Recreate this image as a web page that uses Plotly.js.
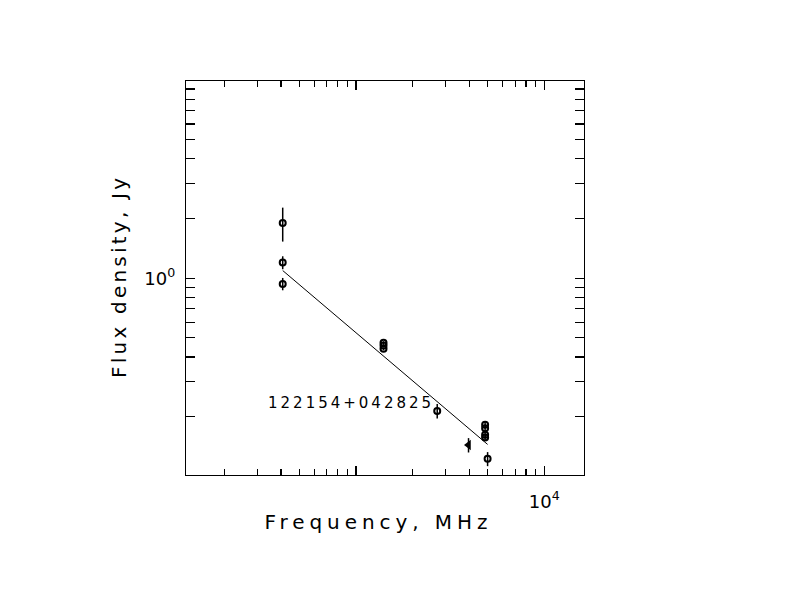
<!DOCTYPE html>
<html>
<head>
<meta charset="utf-8">
<script src="https://cdn.plot.ly/plotly-3.0.1.min.js"></script>
<style>body{margin:0;background:#fff}#plot{width:792px;height:612px}</style>
</head>
<body>
<div id="plot"></div>
<script>
// Source name
const sourceName = "122154+042825";

// Measured points (frequency in MHz, flux density in Jy)
const circFreq = [408, 408, 408, 1400, 1400, 1400, 2700, 4850, 4850, 4850, 4850, 5000];
const circFlux = [1.90, 1.20, 0.936, 0.473, 0.457, 0.440, 0.214, 0.182, 0.175, 0.162, 0.157, 0.1226];
const circErr  = [0.37, 0.09, 0.067, 0.008, 0.008, 0.008, 0.018, 0.007, 0.006, 0.006, 0.006, 0.010];

// Triangle-marked point
const triFreq = [3960];
const triFlux = [0.144];
const triErr  = [0.012];

// Power-law fit line
const fitFreq = [408, 5000];
const fitFlux = [1.093, 0.145];

// Ticks
const xLabelVals = [10000];
const xLabelText = ["10<sup>4</sup>"];
const xUnlabeledMajor = [1000];
const xMinorVals = [200, 300, 400, 500, 600, 700, 800, 900, 2000, 3000, 4000, 5000, 6000, 7000, 8000, 9000];
const yMajorVals = [1];
const yMajorText = ["10<sup>0</sup>"];
const yMinorVals = [0.2, 0.3, 0.4, 0.5, 0.6, 0.7, 0.8, 0.9, 2, 3, 4, 5, 6, 7, 8, 9];

const FONT = "DejaVu Sans";
const X_RANGE = [2.097, 4.211];

const traces = [
  {
    x: fitFreq, y: fitFlux, mode: "lines", type: "scatter", xaxis: "x2",
    line: {color: "black", width: 1}, hoverinfo: "skip", showlegend: false
  },
  {
    x: circFreq, y: circFlux, mode: "markers", type: "scatter",
    marker: {symbol: "circle-open", size: 6, color: "black", line: {width: 2, color: "black"}},
    error_y: {type: "data", array: circErr, visible: true, width: 0, thickness: 1.5, color: "black"},
    showlegend: false
  },
  {
    x: triFreq, y: triFlux, mode: "markers", type: "scatter",
    marker: {symbol: "triangle-left", size: 9, color: "black"},
    error_y: {type: "data", array: triErr, visible: true, width: 0, thickness: 1.5, color: "black"},
    showlegend: false
  }
];

const layout = {
  width: 792, height: 612,
  margin: {l: 186, r: 208, t: 81, b: 137, pad: 0},
  paper_bgcolor: "white", plot_bgcolor: "white",
  font: {family: FONT, color: "black", size: 18},
  showlegend: false,
  xaxis: {
    type: "log", range: X_RANGE,
    showline: true, linecolor: "black", linewidth: 1.2, mirror: "allticks",
    showgrid: false, zeroline: false,
    tickmode: "array", tickvals: xLabelVals, ticktext: xLabelText,
    ticks: "inside", ticklen: 9, tickwidth: 1.2, tickcolor: "black",
    ticklabelstandoff: 10,
    tickfont: {family: FONT, size: 18, color: "black"},
    minor: {tickmode: "array", tickvals: xMinorVals, ticks: "inside", ticklen: 6, tickwidth: 1.2, tickcolor: "black", showgrid: false},
    title: {text: "Frequency, MHz", font: {family: FONT, size: 20, color: "black"}, standoff: 4}
  },
  xaxis2: {
    type: "log", range: X_RANGE, matches: "x", overlaying: "x", side: "bottom",
    showline: false, mirror: "allticks", showgrid: false, zeroline: false,
    tickmode: "array", tickvals: xUnlabeledMajor, showticklabels: false,
    ticks: "inside", ticklen: 9, tickwidth: 1.2, tickcolor: "black"
  },
  yaxis: {
    type: "log", range: [-0.993, 0.995],
    showline: true, linecolor: "black", linewidth: 1.2, mirror: "allticks",
    showgrid: false, zeroline: false,
    tickmode: "array", tickvals: yMajorVals, ticktext: yMajorText,
    ticks: "inside", ticklen: 9, tickwidth: 1.2, tickcolor: "black",
    ticklabelstandoff: 6,
    tickfont: {family: FONT, size: 18, color: "black"},
    minor: {tickmode: "array", tickvals: yMinorVals, ticks: "inside", ticklen: 6, tickwidth: 1.2, tickcolor: "black", showgrid: false},
    title: {text: "Flux density, Jy", font: {family: FONT, size: 20, color: "black"}, standoff: 12}
  },
  annotations: [
    {
      text: sourceName, x: 2.963, y: -0.629, xref: "x", yref: "y",
      showarrow: false, xanchor: "center", yanchor: "middle",
      font: {family: FONT, size: 15, color: "black"}
    }
  ]
};

Plotly.newPlot("plot", traces, layout, {staticPlot: true}).then(function (gd) {
  function stretch(sel, len, dx) {
    const el = gd.querySelector(sel);
    if (el) {
      el.setAttribute("textLength", len);
      el.setAttribute("lengthAdjust", "spacing");
      if (dx) { el.setAttribute("x", parseFloat(el.getAttribute("x")) + dx); }
    }
  }
  stretch(".xtitle", 223, -9);
  stretch(".ytitle", 200, 0);
  stretch(".annotation-text", 163, 0);
});
</script>
</body>
</html>
